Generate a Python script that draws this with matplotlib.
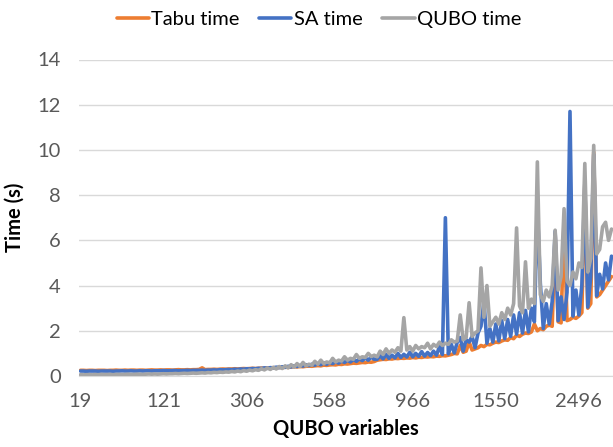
import matplotlib
matplotlib.use("Agg")
import matplotlib.pyplot as plt
import numpy as np

# ---------------- data ----------------
x_tick_labels = ["19", "121", "306", "568", "966", "1550", "2496"]
label_every = 28

tabu_time = [
    0.25, 0.25, 0.24, 0.25, 0.25, 0.24, 0.25, 0.25, 0.25, 0.24, 0.25, 0.25, 0.26, 0.25, 0.25, 0.26, 0.25, 0.26, 0.26, 0.25,
    0.26, 0.26, 0.25, 0.26, 0.27, 0.26, 0.26, 0.27, 0.26, 0.27, 0.27, 0.26, 0.27, 0.28, 0.27, 0.27, 0.28, 0.27, 0.28, 0.28,
    0.29, 0.36, 0.28, 0.29, 0.29, 0.30, 0.29, 0.30, 0.31, 0.30, 0.31, 0.31, 0.32, 0.31, 0.32, 0.33, 0.32, 0.33, 0.34, 0.33,
    0.34, 0.35, 0.34, 0.36, 0.35, 0.37, 0.36, 0.38, 0.37, 0.39, 0.38, 0.40, 0.41, 0.40, 0.42, 0.41, 0.43, 0.44, 0.43, 0.45,
    0.46, 0.45, 0.48, 0.47, 0.49, 0.50, 0.49, 0.52, 0.51, 0.54, 0.53, 0.55, 0.57, 0.56, 0.58, 0.60, 0.59, 0.62, 0.61, 0.64,
    0.70, 0.72, 0.74, 0.73, 0.76, 0.75, 0.78, 0.77, 0.79, 0.78, 0.80, 0.79, 0.82, 0.80, 0.83, 0.82, 0.85, 0.84, 0.86, 0.85,
    0.88, 0.87, 0.90, 0.89, 0.92, 0.95, 1.00, 0.98, 1.35, 1.05, 1.10, 1.50, 1.15, 1.20, 1.25, 1.35, 1.30, 1.40, 1.38, 1.45,
    1.50, 1.48, 1.55, 1.60, 1.58, 1.70, 1.65, 1.80, 1.75, 1.85, 1.90, 1.88, 1.95, 2.30, 2.00, 2.10, 2.05, 2.20, 2.25, 2.20,
    6.30, 2.40, 2.35, 6.90, 2.45, 2.50, 2.60, 2.55, 2.65, 2.80, 8.50, 3.00, 3.20, 9.90, 3.50, 3.60, 3.80, 4.00, 4.20, 4.40,
]

sa_time = [
    0.22, 0.22, 0.21, 0.22, 0.22, 0.22, 0.21, 0.22, 0.22, 0.22, 0.22, 0.21, 0.22, 0.22, 0.23, 0.22, 0.22, 0.23, 0.22, 0.22,
    0.23, 0.22, 0.23, 0.23, 0.22, 0.23, 0.23, 0.23, 0.24, 0.23, 0.23, 0.24, 0.24, 0.23, 0.24, 0.24, 0.25, 0.24, 0.25, 0.25,
    0.25, 0.26, 0.25, 0.26, 0.26, 0.27, 0.26, 0.28, 0.27, 0.28, 0.29, 0.28, 0.30, 0.29, 0.31, 0.30, 0.32, 0.31, 0.33, 0.32,
    0.34, 0.33, 0.36, 0.34, 0.37, 0.36, 0.39, 0.37, 0.41, 0.38, 0.43, 0.40, 0.45, 0.42, 0.47, 0.44, 0.50, 0.46, 0.52, 0.48,
    0.55, 0.50, 0.58, 0.52, 0.60, 0.55, 0.63, 0.57, 0.66, 0.60, 0.70, 0.62, 0.73, 0.65, 0.76, 0.68, 0.80, 0.70, 0.84, 0.74,
    0.74, 0.90, 0.76, 0.95, 0.78, 0.92, 0.80, 1.00, 0.82, 0.96, 0.84, 1.05, 0.85, 1.00, 0.87, 1.08, 0.88, 1.04, 0.90, 1.10,
    0.92, 1.30, 0.95, 7.00, 0.98, 1.40, 1.02, 1.50, 1.70, 1.10, 1.60, 1.50, 1.75, 1.25, 1.90, 2.20, 3.30, 1.45, 2.10, 1.50,
    2.30, 1.55, 2.45, 1.65, 2.50, 1.75, 2.70, 1.85, 2.80, 1.90, 2.90, 1.95, 3.00, 2.40, 7.50, 4.10, 2.10, 3.20, 2.30, 3.30,
    6.40, 2.45, 3.50, 2.50, 3.70, 11.70, 2.65, 3.80, 2.70, 4.00, 8.50, 3.05, 4.40, 9.80, 3.55, 4.50, 3.85, 5.00, 4.25, 5.30,
]

qubo_time = [
    0.06, 0.05, 0.06, 0.06, 0.05, 0.06, 0.06, 0.07, 0.06, 0.06, 0.07, 0.06, 0.07, 0.07, 0.06, 0.07, 0.08, 0.07, 0.07, 0.08,
    0.08, 0.07, 0.08, 0.09, 0.08, 0.09, 0.08, 0.09, 0.10, 0.09, 0.10, 0.10, 0.11, 0.10, 0.11, 0.12, 0.11, 0.12, 0.13, 0.12,
    0.13, 0.14, 0.13, 0.15, 0.14, 0.16, 0.15, 0.17, 0.16, 0.18, 0.17, 0.20, 0.18, 0.22, 0.19, 0.24, 0.21, 0.26, 0.23, 0.28,
    0.25, 0.32, 0.27, 0.35, 0.29, 0.38, 0.31, 0.42, 0.33, 0.45, 0.36, 0.50, 0.39, 0.55, 0.42, 0.60, 0.45, 0.52, 0.48, 0.65,
    0.52, 0.70, 0.55, 0.62, 0.58, 0.78, 0.62, 0.70, 0.66, 0.85, 0.70, 0.78, 0.74, 0.95, 0.78, 0.85, 0.82, 1.00, 0.86, 0.92,
    0.85, 1.10, 0.95, 1.20, 1.00, 1.15, 1.05, 1.25, 1.10, 2.58, 1.15, 1.30, 1.10, 1.35, 1.20, 1.30, 1.25, 1.45, 1.20, 1.40,
    1.30, 1.50, 1.35, 1.45, 1.40, 1.60, 1.50, 1.55, 2.70, 1.60, 1.70, 3.24, 1.75, 1.90, 2.00, 4.78, 2.60, 4.00, 2.20, 2.40,
    2.60, 2.30, 2.80, 2.50, 3.00, 2.70, 3.20, 6.55, 3.10, 2.80, 5.05, 3.00, 3.40, 3.20, 9.47, 3.60, 3.30, 3.80, 3.50, 4.00,
    6.45, 3.80, 4.40, 7.40, 4.20, 4.00, 4.60, 4.30, 5.00, 4.80, 9.40, 4.60, 5.20, 10.20, 5.40, 5.60, 6.60, 6.80, 6.00, 6.50,
]

series_names = ["Tabu time", "SA time", "QUBO time"]
series_colors = ["#ED7D31", "#4472C4", "#A5A5A5"]

# ---------------- plot ----------------
plt.rcParams["font.family"] = ["Lato", "DejaVu Sans"]
fig = plt.figure(figsize=(6.13, 4.47), dpi=100)
ax = fig.add_axes([79 / 613, 1 - 376 / 447, 1 - 79 / 613, (376 - 59.5) / 447])

idx = np.arange(len(tabu_time))
for vals, name, col in zip([tabu_time, sa_time, qubo_time], series_names, series_colors):
    ax.plot(idx, vals, color=col, lw=2.6, label=name, solid_joinstyle="round", solid_capstyle="round")

ax.set_xlim(-0.5, len(tabu_time) - 0.5)
ax.set_ylim(0, 14)
ax.set_yticks(np.arange(0, 15, 2))
ax.set_xticks(idx[::label_every])
ax.set_xticklabels(x_tick_labels)
ax.grid(axis="y", color="#D9D9D9", lw=1.0)
ax.set_axisbelow(True)
for s in ["top", "right", "left"]:
    ax.spines[s].set_visible(False)
ax.spines["bottom"].set_color("#D9D9D9")
ax.tick_params(axis="both", length=0, colors="#595959", labelsize=14.5)
ax.tick_params(axis="x", pad=12)
ax.tick_params(axis="y", pad=13)

ax.set_xlabel("QUBO variables", fontsize=14.5, fontweight="bold", color="#000000", labelpad=7)
ax.set_ylabel("Time (s)", fontsize=14.5, fontweight="bold", color="#000000", labelpad=9)

fig.legend(loc="center", bbox_to_anchor=(0.52, 1 - 19.5 / 447), ncol=3, frameon=False,
           fontsize=14.5, handlelength=1.6, handletextpad=0.1, columnspacing=1.0,
           labelcolor="#000000")

fig.savefig("out.png", dpi=100)
